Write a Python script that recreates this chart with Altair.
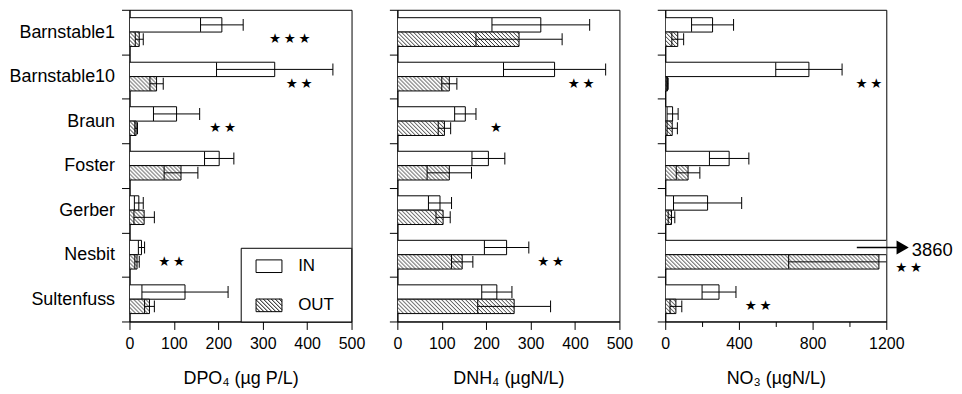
import base64
import altair as alt
import pandas as pd

# ---------------- data ----------------
sites = ["Barnstable1", "Barnstable10", "Braun", "Foster", "Gerber", "Nesbit", "Sultenfuss"]
groups = ["IN", "OUT"]

dpo4_in_mean = [208, 327, 106, 202, 21, 27, 125]
dpo4_in_se = [48, 131, 52, 33, 10, 7, 97]
dpo4_out_mean = [22, 61, 15, 116, 33, 17, 45]
dpo4_out_se = [9, 15, 3, 38, 23, 5, 11]

dnh4_in_mean = [323, 354, 153, 205, 96, 246, 224]
dnh4_in_se = [110, 115, 24, 37, 26, 50, 34]
dnh4_out_mean = [274, 117, 106, 117, 103, 146, 263]
dnh4_out_se = [97, 17, 14, 50, 16, 24, 82]

no3_in_mean = [257, 780, 40, 347, 230, 3860, 292]
no3_in_se = [114, 180, 30, 107, 185, None, 92]
no3_out_mean = [68, 12, 38, 124, 34, 1160, 58]
no3_out_se = [32, 4, 28, 64, 18, 490, 32]

TS = "\u2009"  # thin space between stars
dpo4_star_sites = ["Barnstable1", "Barnstable10", "Braun", "Nesbit"]
dpo4_star_x = [361, 382, 210, 95]
dpo4_star_text = [TS.join("★★★"), TS.join("★★"), TS.join("★★"), TS.join("★★")]

dnh4_star_sites = ["Barnstable10", "Braun", "Nesbit"]
dnh4_star_x = [414, 222, 345]
dnh4_star_text = [TS.join("★★"), "★", TS.join("★★")]

no3_star_sites = ["Barnstable10", "Nesbit", "Sultenfuss"]
no3_star_x = [1106, 1321, 504]
no3_star_text = [TS.join("★★"), TS.join("★★"), TS.join("★★")]

# off-scale value annotation (NO3, Nesbit IN)
offscale_site = "Nesbit"
offscale_label = "3860"
arrow_start = 1040
arrow_tip = 1289
offscale_label_x = 1338

titles = ["DPO\u2084 (\u00b5g P/L)", "DNH\u2084 (\u00b5gN/L)", "NO\u2083 (\u00b5gN/L)"]
ticks_500 = [0, 100, 200, 300, 400, 500]
ticks_1200 = [0, 200, 400, 600, 800, 1000, 1200]

FONT = "Liberation Sans"

# ---------------- hatch pattern (image tile, drawn 1:1) ----------------
hatch_svg = (
    '<svg xmlns="http://www.w3.org/2000/svg"><defs>'
    '<pattern id="h" width="4" height="4" patternUnits="userSpaceOnUse">'
    '<path d="M-1,-1L5,5M3,-1L5,1M-1,3L1,5" stroke="#000" stroke-width="0.8" fill="none"/>'
    '</pattern></defs><rect width="100%" height="100%" fill="url(#h)"/></svg>'
)
HATCH = "data:image/svg+xml;base64," + base64.b64encode(hatch_svg.encode()).decode()


# ---------------- legend symbol paths (unit = 13 px) ----------------
def legend_path(hatched):
    u = 13.0
    f = lambda v: f"{v / u:.3f}"
    bottom = 8.9 if hatched else 13.5
    p = f"M0,{f(-13.5)}M{f(75.6)},{f(bottom)}"  # layout extent of the entry
    p += f"M-1,{f(-6.35)}H1V{f(6.35)}H-1Z"
    if hatched:
        c = -13 - 12.7
        while c < 13:
            x0, y0, x1, y1 = c, -6.35, c + 12.7, 6.35
            if x0 < -13:
                y0 += -13 - x0
                x0 = -13
            if x1 > 13:
                y1 -= x1 - 13
                x1 = 13
            if x1 > x0:
                p += f"M{f(x0)},{f(y0)}L{f(x1)},{f(y1)}"
            c += 4
    return p


def make_df(in_mean, in_se, out_mean, out_se):
    rows = []
    for i, s in enumerate(sites):
        rows.append(dict(site=s, group="IN", val=in_mean[i], se=in_se[i]))
        rows.append(dict(site=s, group="OUT", val=out_mean[i], se=out_se[i]))
    df = pd.DataFrame(rows)
    df["se"] = pd.to_numeric(df["se"])
    df["lo"] = df["val"] - df["se"]
    df["hi"] = df["val"] + df["se"]
    return df


def star_df(s, x, t):
    return pd.DataFrame({"site": s, "x": x, "label": t, "group": ["OUT"] * len(s)})


def panel(df, stars, domain, ticks, title, width, first, no3=False):
    xscale = alt.Scale(domain=domain, nice=False, zero=True)
    ax = dict(values=ticks, title=title, titleFontSize=18, titleY=62,
              titleBaseline="alphabetic", labelFontSize=16, labelPadding=6,
              tickSize=8, labelFlush=False, labelOverlap=False, grid=False, format="d")
    if no3:
        ax["tickSize"] = {"condition": {"test": "datum.value % 400 === 0", "value": 8}, "value": 5}
        ax["labelExpr"] = "datum.value % 400 === 0 ? datum.label : ''"
    xaxis = alt.Axis(**ax)
    if first:
        yaxis = alt.Axis(title=None, labelFontSize=18, labelPadding=7, tickSize=8,
                         tickBand="extent", labelLimit=300, grid=False)
    else:
        yaxis = alt.Axis(title=None, labels=False, tickSize=8, tickBand="extent", grid=False)

    def X(field):
        return alt.X(field, type="quantitative", scale=xscale, axis=xaxis)

    Y = alt.Y("site:N", sort=sites, scale=alt.Scale(paddingInner=0, paddingOuter=0), axis=yaxis)
    YO = alt.YOffset("group:N", sort=groups, scale=alt.Scale(paddingInner=0, paddingOuter=0.55))

    base = alt.Chart(df)
    layers = []
    if first:
        # legend carrier: hidden underneath the white bars of one site
        leg = base.transform_filter(alt.datum.site == "Barnstable10").transform_calculate(
            half="datum.val / 2").mark_point(
            filled=False, fill="white", stroke="black", strokeWidth=1, opacity=1).encode(
            x=X("half"), y=Y, yOffset=YO,
            shape=alt.Shape("group:N", sort=groups,
                            scale=alt.Scale(domain=groups,
                                            range=[legend_path(False), legend_path(True)]),
                            legend=alt.Legend(orient="none", legendX=111.7, legendY=239,
                                              title=None, padding=5, strokeColor="black",
                                              fillColor="white", labelFontSize=17,
                                              labelFont=FONT, labelColor="black",
                                              symbolOffset=9.9, labelOffset=15.8,
                                              rowPadding=8.3, symbolSize=676,
                                              symbolStrokeWidth=1, symbolOpacity=1)))
        layers.append(leg)

    bars = base.mark_bar(stroke="black", strokeWidth=1, opacity=1, fill="white",
                         clip=True).encode(
        x=alt.X("val", type="quantitative", scale=xscale, axis=xaxis, stack=None),
        y=Y, yOffset=YO)
    hatch = base.transform_filter(alt.datum.group == "OUT").mark_image(
        aspect=False, clip=True).encode(
        x=X("val"), x2=alt.X2(datum=0), y=Y, yOffset=YO, url=alt.value(HATCH))
    rule = base.mark_rule(color="black", strokeWidth=1, opacity=1, clip=True).encode(
        x=X("lo"), x2="hi:Q", y=Y, yOffset=YO)
    cap_lo = base.mark_tick(color="black", thickness=1, size=14, opacity=1, clip=True).encode(
        x=X("lo"), y=Y, yOffset=YO)
    cap_hi = base.mark_tick(color="black", thickness=1, size=12, opacity=1, clip=True).encode(
        x=X("hi"), y=Y, yOffset=YO)
    layers += [bars, hatch, rule, cap_lo, cap_hi]

    st = alt.Chart(stars)
    star_kw = dict(font="DejaVu Sans", fontSize=13.5, color="black", baseline="middle")
    if no3:
        layers.append(st.transform_filter(alt.datum.site != offscale_site)
                      .mark_text(**star_kw).encode(x=X("x"), y=Y, yOffset=YO, text="label:N"))
        layers.append(st.transform_filter(alt.datum.site == offscale_site)
                      .mark_text(dy=6, **star_kw).encode(x=X("x"), y=Y, yOffset=YO,
                                                         text="label:N"))
        ann = pd.DataFrame({"site": [offscale_site], "group": ["IN"], "x0": [arrow_start],
                            "x1": [arrow_tip], "tx": [offscale_label_x],
                            "label": [offscale_label]})
        a = alt.Chart(ann)
        layers.append(a.mark_rule(color="black", strokeWidth=1.3).encode(
            x=X("x0"), x2="x1:Q", y=Y, yOffset=YO))
        layers.append(a.mark_point(shape="triangle-right", filled=True, color="black",
                                   size=200, opacity=1).encode(x=X("x1"), y=Y, yOffset=YO))
        layers.append(a.mark_text(align="left", baseline="middle", fontSize=18.5, dy=3,
                                  color="black", font=FONT).encode(
            x=X("tx"), y=Y, yOffset=YO, text="label:N"))
    else:
        layers.append(st.mark_text(**star_kw).encode(x=X("x"), y=Y, yOffset=YO,
                                                     text="label:N"))

    return alt.layer(*layers).properties(width=width, height=313)


p1 = panel(make_df(dpo4_in_mean, dpo4_in_se, dpo4_out_mean, dpo4_out_se),
           star_df(dpo4_star_sites, dpo4_star_x, dpo4_star_text),
           [0, 500], ticks_500, titles[0], 223, True)
p2 = panel(make_df(dnh4_in_mean, dnh4_in_se, dnh4_out_mean, dnh4_out_se),
           star_df(dnh4_star_sites, dnh4_star_x, dnh4_star_text),
           [0, 500], ticks_500, titles[1], 223, False)
p3 = panel(make_df(no3_in_mean, no3_in_se, no3_out_mean, no3_out_se),
           star_df(no3_star_sites, no3_star_x, no3_star_text),
           [0, 1200], ticks_1200, titles[2], 222, False, no3=True)

chart = (
    alt.hconcat(p1, p2, p3, spacing=23)
    .resolve_scale(x="independent", y="independent", yOffset="independent", shape="independent")
    .resolve_legend(shape="independent")
    .properties(padding={"left": 0, "top": -9, "right": 0, "bottom": 0})
    .configure(font=FONT)
    .configure_view(stroke="black", strokeWidth=1)
    .configure_axis(domainColor="black", tickColor="black", labelColor="black",
                    titleColor="black", labelFont=FONT, titleFont=FONT,
                    titleFontWeight="normal", domainWidth=1, tickWidth=1)
)

chart.save("out.html", embed_options={"renderer": "svg", "actions": False})
